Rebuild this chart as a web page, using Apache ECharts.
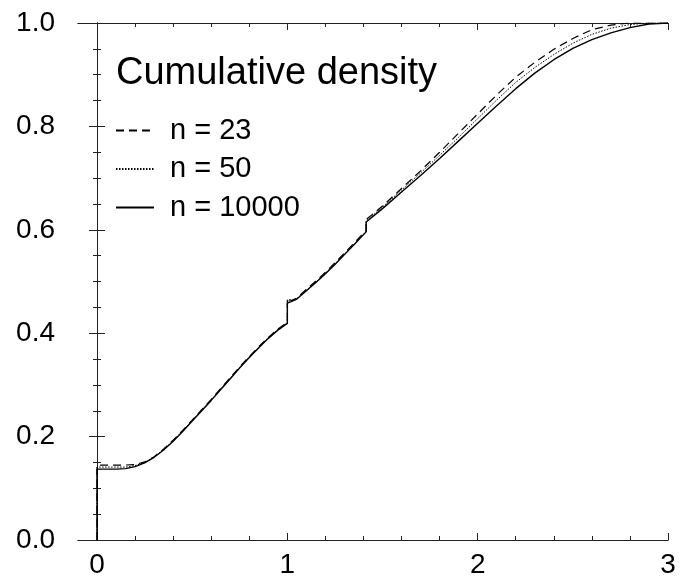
<!DOCTYPE html>
<html><head><meta charset="utf-8">
<script src="https://cdn.jsdelivr.net/npm/echarts@6/dist/echarts.min.js"></script>
<style>html,body{margin:0;padding:0;background:#fff}#c{width:687px;height:579px}</style>
</head><body><div id="c"></div>
<script>
const xValues = [0, 0, 0.05, 0.1, 0.15, 0.2, 0.25, 0.3, 0.35, 0.4, 0.45, 0.5, 0.55, 0.6, 0.65, 0.7, 0.75, 0.8, 0.85, 0.9, 0.95, 1.0, 1.0, 1.02, 1.05, 1.1, 1.15, 1.2, 1.25, 1.3, 1.35, 1.414, 1.414, 1.5, 1.6, 1.7, 1.8, 1.9, 2.0, 2.1, 2.2, 2.3, 2.4, 2.5, 2.6, 2.7, 2.8, 2.9, 3.0];
const n23 = [0, 0.145, 0.145, 0.145, 0.145, 0.146, 0.151, 0.161, 0.176, 0.193, 0.212, 0.232, 0.252, 0.272, 0.293, 0.314, 0.335, 0.355, 0.374, 0.392, 0.408, 0.421, 0.469, 0.463, 0.468, 0.485, 0.501, 0.518, 0.536, 0.555, 0.574, 0.599, 0.620, 0.646, 0.680, 0.714, 0.750, 0.787, 0.824, 0.861, 0.895, 0.924, 0.949, 0.970, 0.987, 0.996, 1.0, 1.0, 1.0];
const n50 = [0, 0.141, 0.141, 0.141, 0.141, 0.144, 0.150, 0.160, 0.175, 0.192, 0.211, 0.231, 0.251, 0.271, 0.292, 0.313, 0.334, 0.354, 0.373, 0.391, 0.407, 0.420, 0.463, 0.462, 0.467, 0.483, 0.499, 0.516, 0.534, 0.553, 0.572, 0.597, 0.617, 0.644, 0.677, 0.710, 0.744, 0.779, 0.815, 0.851, 0.885, 0.914, 0.939, 0.961, 0.978, 0.990, 0.997, 1.0, 1.0];
const n10000 = [0, 0.137, 0.137, 0.137, 0.138, 0.142, 0.149, 0.160, 0.174, 0.191, 0.210, 0.230, 0.250, 0.270, 0.291, 0.312, 0.333, 0.353, 0.372, 0.390, 0.406, 0.419, 0.458, 0.461, 0.466, 0.482, 0.498, 0.515, 0.533, 0.552, 0.571, 0.596, 0.615, 0.641, 0.673, 0.705, 0.738, 0.772, 0.806, 0.840, 0.873, 0.903, 0.929, 0.951, 0.968, 0.981, 0.991, 0.998, 1.0];
const seriesNames = ['n = 23', 'n = 50', 'n = 10000'];
const xMajorTicks = [0, 1, 2, 3];
const xMinorTicks = [0.2, 0.4, 0.6, 0.8, 1.2, 1.4, 1.6, 1.8, 2.2, 2.4, 2.6, 2.8];
const titleText = 'Cumulative density';

const pair = ys => xValues.map((x, i) => [x, ys[i]]);
const FONT = '"Liberation Sans", Arial, sans-serif';
const lineC = '#222';

function xAx(pos, major, show) {
  return {
    type: 'value', min: -0.1, max: 3, position: pos,
    axisLine: { show: true, onZero: false, lineStyle: { color: lineC, width: 1 } },
    axisTick: { show: true, inside: true, length: major ? 7 : 4, customValues: major ? xMajorTicks : xMinorTicks, lineStyle: { color: lineC } },
    axisLabel: { show: show, customValues: xMajorTicks, margin: 11, fontSize: 28, color: '#000', fontFamily: FONT, formatter: v => String(Math.round(v)) },
    splitLine: { show: false }
  };
}
function yAx(pos, show) {
  return {
    type: 'value', min: 0, max: 1, interval: 0.2, position: pos,
    axisLine: { show: true, lineStyle: { color: lineC, width: 1 } },
    axisTick: { show: true, inside: true, length: 8, lineStyle: { color: lineC } },
    minorTick: { show: true, splitNumber: 4, length: 4, lineStyle: { color: lineC } },
    axisLabel: { show: show, margin: 23, fontSize: 28, color: '#000', fontFamily: FONT, formatter: v => v.toFixed(1) },
    splitLine: { show: false }, minorSplitLine: { show: false }
  };
}

const chart = echarts.init(document.getElementById('c'), null, { renderer: 'canvas' });
chart.setOption({
  animation: false,
  backgroundColor: '#fff',
  title: { text: titleText, left: 111, top: 50, textStyle: { fontSize: 38, fontWeight: 'normal', color: '#000', fontFamily: FONT } },
  legend: {
    orient: 'vertical', left: 110, top: 111, itemWidth: 38, itemHeight: 14, itemGap: 9.5,
    itemStyle: { opacity: 0 },
    textStyle: { fontSize: 29, color: '#000', fontFamily: FONT, padding: [0, 0, 0, 11] },
    data: seriesNames
  },
  grid: { left: 78, right: 19, top: 23, bottom: 38, containLabel: false },
  xAxis: [xAx('bottom', true, true), xAx('bottom', false, false), xAx('top', true, false), xAx('top', false, false)],
  yAxis: [yAx('left', true), yAx('right', false)],
  series: [
    { name: seriesNames[0], type: 'line', data: pair(n23), showSymbol: false, symbol: 'none', xAxisIndex: 0, yAxisIndex: 0,
      lineStyle: { color: '#000', width: 1.2, type: [8, 5] }, itemStyle: { color: 'rgba(0,0,0,0)' } },
    { name: seriesNames[1], type: 'line', data: pair(n50), showSymbol: false, symbol: 'none', xAxisIndex: 0, yAxisIndex: 0,
      lineStyle: { color: '#000', width: 1, type: [1.5, 1.5] }, itemStyle: { color: 'rgba(0,0,0,0)' } },
    { name: seriesNames[2], type: 'line', data: pair(n10000), showSymbol: false, symbol: 'none', xAxisIndex: 0, yAxisIndex: 0,
      lineStyle: { color: '#000', width: 1.4, type: 'solid' }, itemStyle: { color: 'rgba(0,0,0,0)' } }
  ]
});
</script></body></html>
